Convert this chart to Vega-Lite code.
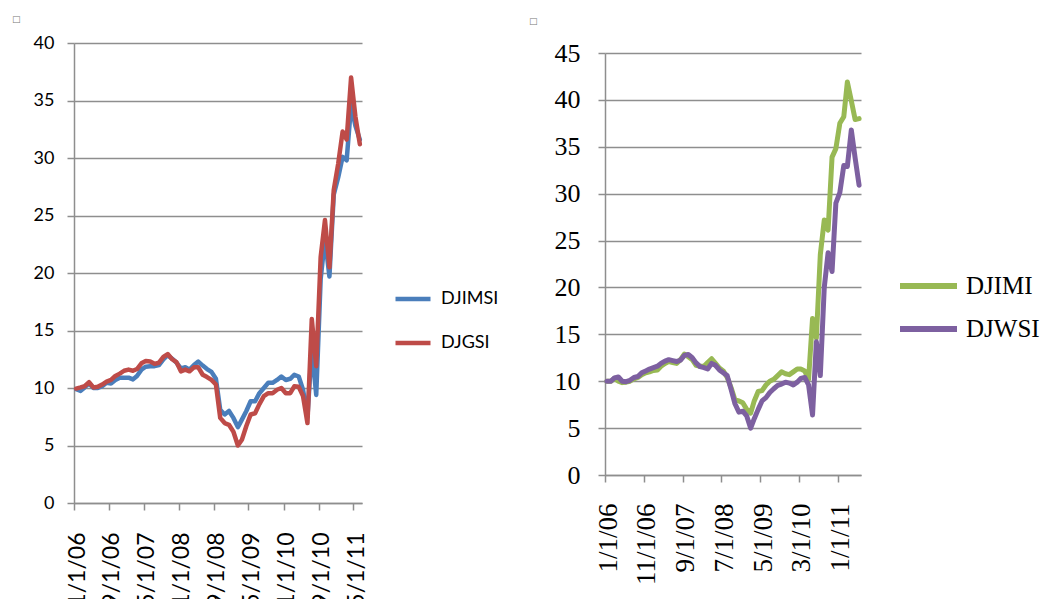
{
  "$schema": "https://vega.github.io/schema/vega-lite/v6.json",
  "background": "white",
  "padding": {"left": 12, "top": 15, "right": 0, "bottom": 0},
  "spacing": 30,
  "data": {"values": [
    {"date": "2006/01/16", "DJIMSI": 9.9, "DJGSI": 9.95, "DJIMI": 10.0, "DJWSI": 10.0},
    {"date": "2006/02/16", "DJIMSI": 9.75, "DJGSI": 10.05, "DJIMI": 10.0, "DJWSI": 10.0},
    {"date": "2006/03/16", "DJIMSI": 10.05, "DJGSI": 10.15, "DJIMI": 10.3, "DJWSI": 10.35},
    {"date": "2006/04/16", "DJIMSI": 10.4, "DJGSI": 10.5, "DJIMI": 10.0, "DJWSI": 10.45},
    {"date": "2006/05/16", "DJIMSI": 10.0, "DJGSI": 10.05, "DJIMI": 9.85, "DJWSI": 10.0},
    {"date": "2006/06/16", "DJIMSI": 10.0, "DJGSI": 10.1, "DJIMI": 9.9, "DJWSI": 9.95},
    {"date": "2006/07/16", "DJIMSI": 10.15, "DJGSI": 10.3, "DJIMI": 10.0, "DJWSI": 10.1},
    {"date": "2006/08/16", "DJIMSI": 10.45, "DJGSI": 10.55, "DJIMI": 10.25, "DJWSI": 10.4},
    {"date": "2006/09/16", "DJIMSI": 10.4, "DJGSI": 10.7, "DJIMI": 10.4, "DJWSI": 10.5},
    {"date": "2006/10/16", "DJIMSI": 10.7, "DJGSI": 11.05, "DJIMI": 10.7, "DJWSI": 10.9},
    {"date": "2006/11/16", "DJIMSI": 10.9, "DJGSI": 11.25, "DJIMI": 10.9, "DJWSI": 11.1},
    {"date": "2006/12/16", "DJIMSI": 10.9, "DJGSI": 11.5, "DJIMI": 11.0, "DJWSI": 11.3},
    {"date": "2007/01/16", "DJIMSI": 10.9, "DJGSI": 11.6, "DJIMI": 11.15, "DJWSI": 11.45},
    {"date": "2007/02/16", "DJIMSI": 10.75, "DJGSI": 11.5, "DJIMI": 11.2, "DJWSI": 11.6},
    {"date": "2007/03/16", "DJIMSI": 11.05, "DJGSI": 11.65, "DJIMI": 11.6, "DJWSI": 11.9},
    {"date": "2007/04/16", "DJIMSI": 11.6, "DJGSI": 12.15, "DJIMI": 11.9, "DJWSI": 12.15},
    {"date": "2007/05/16", "DJIMSI": 11.85, "DJGSI": 12.35, "DJIMI": 12.1, "DJWSI": 12.3},
    {"date": "2007/06/16", "DJIMSI": 11.9, "DJGSI": 12.3, "DJIMI": 12.0, "DJWSI": 12.2},
    {"date": "2007/07/16", "DJIMSI": 11.9, "DJGSI": 12.1, "DJIMI": 11.9, "DJWSI": 12.1},
    {"date": "2007/08/16", "DJIMSI": 12.0, "DJGSI": 12.2, "DJIMI": 12.3, "DJWSI": 12.25},
    {"date": "2007/09/16", "DJIMSI": 12.5, "DJGSI": 12.7, "DJIMI": 12.9, "DJWSI": 12.75},
    {"date": "2007/10/16", "DJIMSI": 12.85, "DJGSI": 12.95, "DJIMI": 12.6, "DJWSI": 12.85},
    {"date": "2007/11/16", "DJIMSI": 12.55, "DJGSI": 12.5, "DJIMI": 12.3, "DJWSI": 12.5},
    {"date": "2007/12/16", "DJIMSI": 12.2, "DJGSI": 12.25, "DJIMI": 11.7, "DJWSI": 11.95},
    {"date": "2008/01/16", "DJIMSI": 11.7, "DJGSI": 11.45, "DJIMI": 11.6, "DJWSI": 11.55},
    {"date": "2008/02/16", "DJIMSI": 11.8, "DJGSI": 11.6, "DJIMI": 11.6, "DJWSI": 11.45},
    {"date": "2008/03/16", "DJIMSI": 11.6, "DJGSI": 11.45, "DJIMI": 12.0, "DJWSI": 11.3},
    {"date": "2008/04/16", "DJIMSI": 12.0, "DJGSI": 11.8, "DJIMI": 12.4, "DJWSI": 11.9},
    {"date": "2008/05/16", "DJIMSI": 12.3, "DJGSI": 11.8, "DJIMI": 11.9, "DJWSI": 11.7},
    {"date": "2008/06/16", "DJIMSI": 11.95, "DJGSI": 11.15, "DJIMI": 11.4, "DJWSI": 11.2},
    {"date": "2008/07/16", "DJIMSI": 11.65, "DJGSI": 10.95, "DJIMI": 11.1, "DJWSI": 10.9},
    {"date": "2008/08/16", "DJIMSI": 11.4, "DJGSI": 10.7, "DJIMI": 10.4, "DJWSI": 10.6},
    {"date": "2008/09/16", "DJIMSI": 10.8, "DJGSI": 10.3, "DJIMI": 9.3, "DJWSI": 9.1},
    {"date": "2008/10/16", "DJIMSI": 8.1, "DJGSI": 7.4, "DJIMI": 8.0, "DJWSI": 7.6},
    {"date": "2008/11/16", "DJIMSI": 7.7, "DJGSI": 6.95, "DJIMI": 7.9, "DJWSI": 6.7},
    {"date": "2008/12/16", "DJIMSI": 8.0, "DJGSI": 6.8, "DJIMI": 7.7, "DJWSI": 6.8},
    {"date": "2009/01/16", "DJIMSI": 7.4, "DJGSI": 6.2, "DJIMI": 7.0, "DJWSI": 6.3},
    {"date": "2009/02/16", "DJIMSI": 6.6, "DJGSI": 5.0, "DJIMI": 6.6, "DJWSI": 5.0},
    {"date": "2009/03/16", "DJIMSI": 7.25, "DJGSI": 5.5, "DJIMI": 7.9, "DJWSI": 6.0},
    {"date": "2009/04/16", "DJIMSI": 8.0, "DJGSI": 6.7, "DJIMI": 8.9, "DJWSI": 7.0},
    {"date": "2009/05/16", "DJIMSI": 8.85, "DJGSI": 7.7, "DJIMI": 9.0, "DJWSI": 7.9},
    {"date": "2009/06/16", "DJIMSI": 8.85, "DJGSI": 7.8, "DJIMI": 9.6, "DJWSI": 8.25},
    {"date": "2009/07/16", "DJIMSI": 9.55, "DJGSI": 8.6, "DJIMI": 10.0, "DJWSI": 8.8},
    {"date": "2009/08/16", "DJIMSI": 10.0, "DJGSI": 9.3, "DJIMI": 10.2, "DJWSI": 9.2},
    {"date": "2009/09/16", "DJIMSI": 10.45, "DJGSI": 9.55, "DJIMI": 10.6, "DJWSI": 9.55},
    {"date": "2009/10/16", "DJIMSI": 10.45, "DJGSI": 9.55, "DJIMI": 11.0, "DJWSI": 9.7},
    {"date": "2009/11/16", "DJIMSI": 10.7, "DJGSI": 9.85, "DJIMI": 10.8, "DJWSI": 9.9},
    {"date": "2009/12/16", "DJIMSI": 11.0, "DJGSI": 10.0, "DJIMI": 10.7, "DJWSI": 9.8},
    {"date": "2010/01/16", "DJIMSI": 10.7, "DJGSI": 9.55, "DJIMI": 11.0, "DJWSI": 9.6},
    {"date": "2010/02/16", "DJIMSI": 10.8, "DJGSI": 9.55, "DJIMI": 11.3, "DJWSI": 9.9},
    {"date": "2010/03/16", "DJIMSI": 11.15, "DJGSI": 10.15, "DJIMI": 11.3, "DJWSI": 10.3},
    {"date": "2010/04/16", "DJIMSI": 11.0, "DJGSI": 10.1, "DJIMI": 11.1, "DJWSI": 10.4},
    {"date": "2010/05/16", "DJIMSI": 9.85, "DJGSI": 9.3, "DJIMI": 10.2, "DJWSI": 9.6},
    {"date": "2010/06/16", "DJIMSI": 7.5, "DJGSI": 6.95, "DJIMI": 16.7, "DJWSI": 6.4},
    {"date": "2010/07/16", "DJIMSI": 13.5, "DJGSI": 16.0, "DJIMI": 14.6, "DJWSI": 14.2},
    {"date": "2010/08/16", "DJIMSI": 9.4, "DJGSI": 11.9, "DJIMI": 23.5, "DJWSI": 10.6},
    {"date": "2010/09/16", "DJIMSI": 19.5, "DJGSI": 21.4, "DJIMI": 27.2, "DJWSI": 20.0},
    {"date": "2010/10/16", "DJIMSI": 23.0, "DJGSI": 24.6, "DJIMI": 26.1, "DJWSI": 23.7},
    {"date": "2010/11/16", "DJIMSI": 19.7, "DJGSI": 20.5, "DJIMI": 33.9, "DJWSI": 21.7},
    {"date": "2010/12/16", "DJIMSI": 26.8, "DJGSI": 27.2, "DJIMI": 34.8, "DJWSI": 29.0},
    {"date": "2011/01/16", "DJIMSI": 28.3, "DJGSI": 29.5, "DJIMI": 37.5, "DJWSI": 30.1},
    {"date": "2011/02/16", "DJIMSI": 30.1, "DJGSI": 32.3, "DJIMI": 38.2, "DJWSI": 33.0},
    {"date": "2011/03/16", "DJIMSI": 29.8, "DJGSI": 31.6, "DJIMI": 41.9, "DJWSI": 32.9},
    {"date": "2011/04/16", "DJIMSI": 34.6, "DJGSI": 37.0, "DJIMI": 39.9, "DJWSI": 36.8},
    {"date": "2011/05/16", "DJIMSI": 32.8, "DJGSI": 33.6, "DJIMI": 37.9, "DJWSI": 33.8},
    {"date": "2011/06/16", "DJIMSI": 31.6, "DJGSI": 31.2, "DJIMI": 38.0, "DJWSI": 30.9}
  ]},
  "hconcat": [
    {
      "title": {"text": "□", "anchor": "start", "frame": "bounds", "font": "DejaVu Sans", "fontSize": 9, "fontWeight": "normal", "color": "#777777", "dx": -21, "offset": 10},
      "width": 288,
      "height": 460,
      "transform": [{"fold": ["DJIMSI", "DJGSI"], "as": ["series", "value"]}],
      "mark": {"type": "line", "strokeWidth": 4.5, "strokeJoin": "round", "strokeCap": "round"},
      "encoding": {
        "x": {
          "field": "date", "type": "temporal",
          "scale": {"domain": [{"year": 2006, "month": 1, "date": 1}, {"year": 2011, "month": 7, "date": 1}], "nice": false},
          "axis": {
            "title": null, "grid": false, "format": "%-m/%-d/%y",
            "values": [
              {"year": 2006, "month": 1, "date": 1}, {"year": 2006, "month": 9, "date": 1},
              {"year": 2007, "month": 5, "date": 1}, {"year": 2008, "month": 1, "date": 1},
              {"year": 2008, "month": 9, "date": 1}, {"year": 2009, "month": 5, "date": 1},
              {"year": 2010, "month": 1, "date": 1}, {"year": 2010, "month": 9, "date": 1},
              {"year": 2011, "month": 5, "date": 1}
            ],
            "labelAngle": -90, "labelFont": "Lato", "labelFontSize": 23, "labelColor": "#000000",
            "labelPadding": 22, "labelOffset": 3, "labelOverlap": false, "labelFlush": false, "labelBound": false,
            "tickSize": 7, "tickColor": "#8E8E8E", "tickWidth": 1.5,
            "domain": true, "domainColor": "#8E8E8E", "domainWidth": 1.5
          }
        },
        "y": {
          "field": "value", "type": "quantitative",
          "scale": {"domain": [0, 40], "nice": false, "zero": true},
          "axis": {
            "title": null, "values": [0, 5, 10, 15, 20, 25, 30, 35, 40],
            "grid": true, "gridColor": "#8E8E8E", "gridWidth": 1.5,
            "labelFont": "Lato", "labelFontSize": 18, "labelColor": "#000000", "labelPadding": 13,
            "tickSize": 7, "tickColor": "#8E8E8E", "tickWidth": 1.5,
            "domainColor": "#8E8E8E", "domainWidth": 1.5
          }
        },
        "color": {
          "field": "series", "type": "nominal",
          "scale": {"domain": ["DJIMSI", "DJGSI"], "range": ["#4A7EBB", "#BE4B48"]},
          "legend": {
            "title": null, "orient": "none", "legendX": 319, "legendY": 246, "padding": 0,
            "symbolType": "stroke", "symbolSize": 1225, "symbolStrokeWidth": 4.5,
            "labelFont": "Lato", "labelFontSize": 18, "labelColor": "#000000", "labelOffset": 8,
            "clipHeight": 20, "rowPadding": 24
          }
        }
      }
    },
    {
      "title": {"text": "□", "anchor": "start", "frame": "bounds", "font": "DejaVu Sans", "fontSize": 9, "fontWeight": "normal", "color": "#777777", "dx": -25, "offset": 14},
      "width": 256,
      "height": 432,
      "transform": [{"fold": ["DJIMI", "DJWSI"], "as": ["series", "value"]}],
      "mark": {"type": "line", "strokeWidth": 5, "strokeJoin": "round", "strokeCap": "round"},
      "encoding": {
        "x": {
          "field": "date", "type": "temporal",
          "scale": {"domain": [{"year": 2006, "month": 1, "date": 1}, {"year": 2011, "month": 7, "date": 1}], "nice": false},
          "axis": {
            "title": null, "grid": false, "format": "%-m/%-d/%y",
            "values": [
              {"year": 2006, "month": 1, "date": 1}, {"year": 2006, "month": 11, "date": 1},
              {"year": 2007, "month": 9, "date": 1}, {"year": 2008, "month": 7, "date": 1},
              {"year": 2009, "month": 5, "date": 1}, {"year": 2010, "month": 3, "date": 1},
              {"year": 2011, "month": 1, "date": 1}
            ],
            "labelAngle": -90, "labelFont": "Liberation Serif", "labelFontSize": 27, "labelColor": "#000000",
            "labelPadding": 21, "labelOffset": 3, "labelOverlap": false, "labelFlush": false, "labelBound": false,
            "tickSize": 7, "tickColor": "#8E8E8E", "tickWidth": 1.5,
            "domain": true, "domainColor": "#8E8E8E", "domainWidth": 1.5
          }
        },
        "y": {
          "field": "value", "type": "quantitative",
          "scale": {"domain": [0, 45], "nice": false, "zero": true, "range": [432, 10]},
          "axis": {
            "title": null, "values": [0, 5, 10, 15, 20, 25, 30, 35, 40, 45],
            "grid": true, "gridColor": "#8E8E8E", "gridWidth": 1.5,
            "labelFont": "Liberation Serif", "labelFontSize": 26, "labelColor": "#000000", "labelPadding": 18,
            "tickSize": 7, "tickColor": "#8E8E8E", "tickWidth": 1.5,
            "domainColor": "#8E8E8E", "domainWidth": 1.5
          }
        },
        "color": {
          "field": "series", "type": "nominal",
          "scale": {"domain": ["DJIMI", "DJWSI"], "range": ["#98B954", "#7D60A0"]},
          "legend": {
            "title": null, "orient": "none", "legendX": 292, "legendY": 230, "padding": 0,
            "symbolType": "stroke", "symbolSize": 3249, "symbolStrokeWidth": 6,
            "labelFont": "Liberation Serif", "labelFontSize": 25, "labelColor": "#000000", "labelOffset": 6,
            "clipHeight": 26, "rowPadding": 17
          }
        }
      }
    }
  ],
  "resolve": {"scale": {"color": "independent", "x": "independent", "y": "independent"}},
  "config": {
    "view": {"stroke": null},
    "font": "Lato"
  }
}
